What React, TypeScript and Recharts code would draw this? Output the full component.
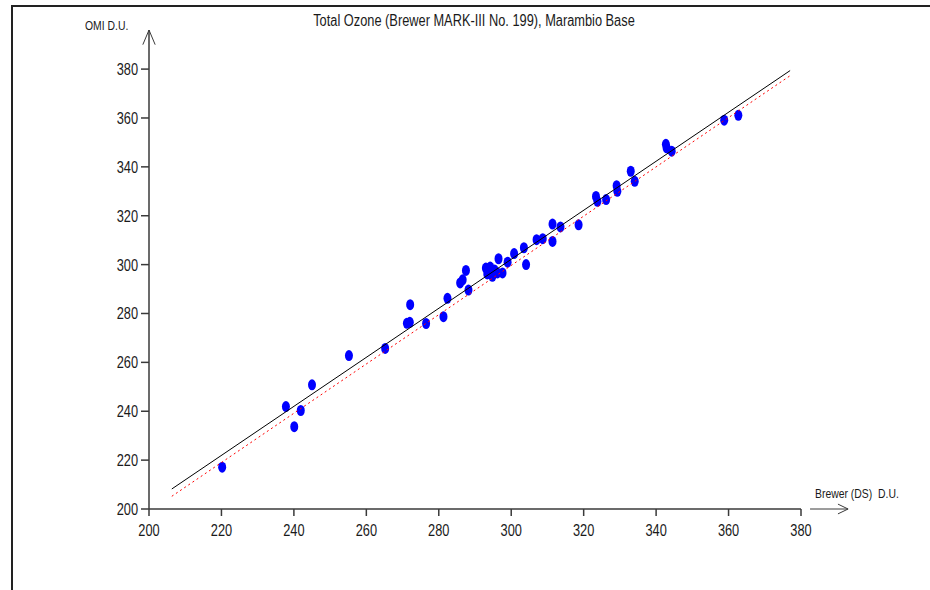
import { ScatterChart, Scatter, XAxis, YAxis, ReferenceLine } from 'recharts';

const brewer = [
  220.2, 237.8, 240.1, 241.9, 245.0, 255.2, 265.2, 271.2, 272.0, 272.1,
  276.5, 281.3, 282.4, 285.9, 286.6, 287.5, 288.2, 293.0, 293.4, 294.2,
  294.8, 295.4, 296.2, 297.6, 296.5, 299.0, 300.8, 303.5, 304.1, 307.0,
  308.7, 311.4, 311.4, 313.6, 318.6, 323.4, 323.8, 326.2, 329.1, 329.3,
  333.0, 334.1, 342.7, 342.9, 344.3, 358.8, 362.7,
];
const omi = [
  217.1, 241.9, 233.7, 240.3, 250.8, 262.8, 265.7, 276.0, 276.4, 283.6,
  275.9, 278.7, 286.2, 292.5, 293.8, 297.6, 289.6, 298.6, 296.2, 299.0,
  295.2, 297.8, 296.6, 296.6, 302.4, 301.0, 304.5, 306.9, 300.0, 310.2,
  310.6, 316.6, 309.5, 315.4, 316.3, 327.9, 325.9, 326.6, 332.3, 330.0,
  338.2, 334.1, 349.2, 347.8, 346.4, 359.1, 361.1,
];

// fitted lines, end points
const fitX = [206.3, 377.0];
const fitY = [208.2, 379.4];
const fit2X = [206.3, 377.0];
const fit2Y = [205.2, 377.3];

const xTicks = [200, 220, 240, 260, 280, 300, 320, 340, 360, 380];
const yTicks = [200, 220, 240, 260, 280, 300, 320, 340, 360, 380];

const points = brewer.map((x, i) => ({ x, y: omi[i] }));
const fitLine = fitX.map((x, i) => ({ x, y: fitY[i] }));
const fitLine2 = fit2X.map((x, i) => ({ x, y: fit2Y[i] }));

// no narrow font installed, so squeeze Liberation Sans instead
const FONT = "'Liberation Sans', Arial, sans-serif";
const SQUEEZE = 0.8;
const AXIS = '#3a3a3a';
const INK = '#1a1a1a';

const Dot = (props: any) => (
  <ellipse cx={props.cx} cy={props.cy} rx={4} ry={5.5} fill="#0000ff" />
);

const XTick = ({ x, y, payload }: any) => (
  <g transform={`translate(${x},${y})`}>
    <text x={0} y={14} textAnchor="middle" transform={`scale(${SQUEEZE},1)`} fill={INK} fontSize={16} fontFamily={FONT}>
      {payload.value}
    </text>
  </g>
);

const YTick = ({ x, y, payload }: any) => (
  <g transform={`translate(${x},${y})`}>
    <text x={0} y={6} textAnchor="end" transform={`scale(${SQUEEZE},1)`} fill={INK} fontSize={16} fontFamily={FONT}>
      {payload.value}
    </text>
  </g>
);

const label = (left: number, top: number, size: number, origin = 'left center') => ({
  position: 'absolute' as const,
  left,
  top,
  fontFamily: FONT,
  fontSize: size,
  color: INK,
  whiteSpace: 'pre' as const,
  transform: `scaleX(${SQUEEZE})`,
  transformOrigin: origin,
});

export default function App() {
  return (
    <div style={{ position: 'absolute', left: 0, top: 0, width: 930, height: 590, background: '#fff' }}>
      <div
        style={{
          position: 'absolute', left: 11, top: 5, width: 919, height: 585,
          borderTop: '2px solid #222', borderLeft: '2px solid #222',
        }}
      />
      <div style={{ position: 'absolute', left: 0, top: 0 }}>
        <ScatterChart width={930} height={590} margin={{ top: 30, right: 129, bottom: 51, left: 0 }}>
          <XAxis
            type="number"
            dataKey="x"
            domain={[200, 380]}
            ticks={xTicks}
            allowDataOverflow
            height={30}
            tickSize={7}
            tickMargin={6}
            stroke={AXIS}
            strokeWidth={1.5}
            tick={<XTick />}
          />
          <YAxis
            type="number"
            dataKey="y"
            domain={[200, 396]}
            ticks={yTicks}
            allowDataOverflow
            width={149}
            tickSize={8}
            tickMargin={3}
            stroke={AXIS}
            strokeWidth={1.5}
            tick={<YTick />}
          />
          <Scatter data={points} shape={<Dot />} isAnimationActive={false} />
          <Scatter
            data={fitLine2}
            line={{ stroke: '#ff0000', strokeWidth: 1, strokeDasharray: '2 3' }}
            shape={() => null}
            isAnimationActive={false}
          />
          <Scatter
            data={fitLine}
            line={{ stroke: '#000000', strokeWidth: 1 }}
            shape={() => null}
            isAnimationActive={false}
          />
          {/* axis arrows */}
          <ReferenceLine segment={[{ x: 198.3, y: 390 }, { x: 200, y: 396 }]} stroke={AXIS} ifOverflow="visible" />
          <ReferenceLine segment={[{ x: 201.7, y: 390 }, { x: 200, y: 396 }]} stroke={AXIS} ifOverflow="visible" />
          <ReferenceLine segment={[{ x: 382.5, y: 200 }, { x: 393, y: 200 }]} stroke={AXIS} ifOverflow="visible" />
          <ReferenceLine segment={[{ x: 390.2, y: 202 }, { x: 393, y: 200 }]} stroke={AXIS} ifOverflow="visible" />
          <ReferenceLine segment={[{ x: 390.2, y: 198 }, { x: 393, y: 200 }]} stroke={AXIS} ifOverflow="visible" />
        </ScatterChart>
      </div>
      <div style={{ ...label(0, 12, 16, 'center center'), width: 948, textAlign: 'center' }}>
        Total Ozone (Brewer MARK-III No. 199), Marambio Base
      </div>
      <div style={label(85, 18, 13)}>OMI D.U.</div>
      <div style={label(815, 486, 13)}>Brewer (DS)  D.U.</div>
    </div>
  );
}
